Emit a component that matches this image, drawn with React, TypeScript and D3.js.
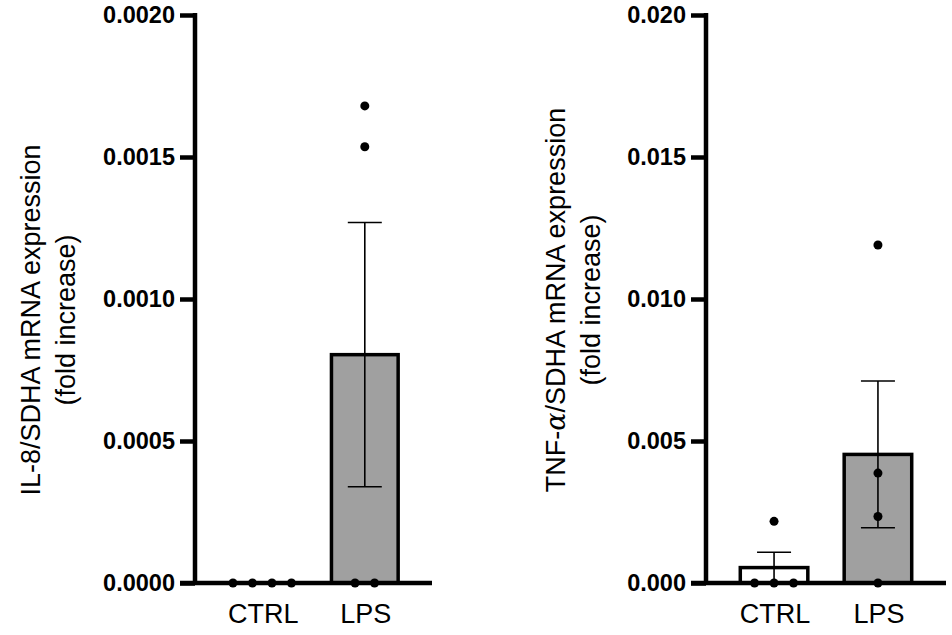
import React, { useRef, useEffect } from "react"
import * as d3 from "d3"

const GROUPS = ["CTRL", "LPS"]

// individual replicates
const IL8_CTRL = [0, 0, 0, 0]
const IL8_LPS = [0.00168, 0.001536, 0, 0]
const TNF_CTRL = [0.00217, 0, 0, 0]
const TNF_LPS = [0.0119, 0.00387, 0.00234, 0]

const IL8_TICKS = [0, 0.0005, 0.001, 0.0015, 0.002]
const TNF_TICKS = [0, 0.005, 0.01, 0.015, 0.02]

const BAR_FILLS = ["#ffffff", "#a0a0a0"]
const FONT = "Arial, 'Liberation Sans', Helvetica, sans-serif"

const W = 952
const H = 635
const TOP = 15
const BOTTOM = 583

interface PanelSpec {
  axisX: number
  endX: number
  max: number
  ticks: number[]
  fmt: string
  series: number[][]
  labelLines: { text: string; alphaAt?: number }[]
  labelX: number
  labelY: number
}

function drawPanel(svg: d3.Selection<SVGSVGElement, unknown, null, undefined>, p: PanelSpec) {
  const g = svg.append("g")

  const x = d3.scaleBand<string>().domain(GROUPS).range([p.axisX, p.endX])
    .paddingInner(0.35).paddingOuter(0.33)
  const y = d3.scaleLinear().domain([0, p.max]).range([BOTTOM, TOP])

  const stats = p.series.map((vals) => {
    const m = d3.mean(vals) ?? 0
    const sem = (d3.deviation(vals) ?? 0) / Math.sqrt(vals.length)
    return { m, sem }
  })

  // bars
  g.selectAll("rect.bar").data(GROUPS).join("rect")
    .attr("x", (d) => x(d)!).attr("width", x.bandwidth())
    .attr("y", (_, i) => y(stats[i].m))
    .attr("height", (_, i) => BOTTOM - y(stats[i].m))
    .attr("fill", (_, i) => BAR_FILLS[i])
    .attr("stroke", "#000").attr("stroke-width", 3.5)

  // error bars (mean ± SEM)
  const capW = 34
  GROUPS.forEach((grp, i) => {
    const cx = x(grp)! + x.bandwidth() / 2
    const lo = Math.max(0, stats[i].m - stats[i].sem)
    const hi = stats[i].m + stats[i].sem
    const eg = g.append("g").attr("stroke", "#000").attr("stroke-width", 1.6)
    eg.append("line").attr("x1", cx).attr("x2", cx).attr("y1", y(lo)).attr("y2", y(hi))
    eg.append("line").attr("x1", cx - capW / 2).attr("x2", cx + capW / 2).attr("y1", y(hi)).attr("y2", y(hi))
    if (lo > 0) {
      eg.append("line").attr("x1", cx - capW / 2).attr("x2", cx + capW / 2).attr("y1", y(lo)).attr("y2", y(lo))
    }
  })

  // points, equal values spread sideways
  const spread = 19.5
  GROUPS.forEach((grp, i) => {
    const cx = x(grp)! + x.bandwidth() / 2
    const byVal = d3.group(p.series[i], (v) => v)
    byVal.forEach((vals, v) => {
      vals.forEach((_, k) => {
        g.append("circle")
          .attr("cx", cx + (k - (vals.length - 1) / 2) * spread)
          .attr("cy", y(v)).attr("r", 4.5).attr("fill", "#000")
      })
    })
  })

  // x axis line
  g.append("line").attr("x1", p.axisX - 15).attr("x2", p.endX)
    .attr("y1", BOTTOM).attr("y2", BOTTOM)
    .attr("stroke", "#000").attr("stroke-width", 4.5)

  // y axis
  g.append("g").attr("transform", `translate(${p.axisX},0)`)
    .call(d3.axisLeft(y).tickValues(p.ticks).tickSize(15).tickSizeOuter(0).tickPadding(5)
      .tickFormat((d) => d3.format(p.fmt)(d as number)))
    .call((a) => a.select(".domain").attr("stroke-width", 4.5).attr("d", `M0,${TOP - 2}V${BOTTOM + 2}`))
    .call((a) => a.selectAll(".tick line").attr("stroke-width", 4.5))
    .call((a) => a.selectAll("text").attr("fill", "#000").attr("font-size", 23.5)
      .attr("font-weight", "bold").attr("font-family", FONT))

  // category labels
  g.selectAll("text.cat").data(GROUPS).join("text")
    .attr("x", (d) => x(d)! + x.bandwidth() / 2 + 1).attr("y", 622.5)
    .attr("text-anchor", "middle").attr("font-size", 27).attr("font-family", FONT)
    .attr("fill", "#000").text((d) => d)

  // y label
  const lab = g.append("text")
    .attr("transform", `translate(${p.labelX},${p.labelY}) rotate(-90)`)
    .attr("text-anchor", "middle").attr("font-size", 27).attr("font-family", FONT).attr("fill", "#000")
  p.labelLines.forEach((ln, i) => {
    const t = lab.append("tspan").attr("x", 0).attr("y", i * 35)
    if (ln.alphaAt !== undefined) {
      t.append("tspan").text(ln.text.slice(0, ln.alphaAt))
      t.append("tspan").attr("font-style", "italic").attr("font-family", "'DejaVu Serif', serif").text("α")
      t.append("tspan").text(ln.text.slice(ln.alphaAt + 1))
    } else {
      t.text(ln.text)
    }
  })
}

export default function App() {
  const svgRef = useRef<SVGSVGElement>(null)

  useEffect(() => {
    const el = svgRef.current
    if (!el) return
    const svg = d3.select(el)
    svg.selectAll("*").remove()

    drawPanel(svg, {
      axisX: 195, endX: 432, max: 0.002, ticks: IL8_TICKS, fmt: ".4f",
      series: [IL8_CTRL, IL8_LPS],
      labelLines: [{ text: "IL-8/SDHA mRNA expression" }, { text: "(fold increase)" }],
      labelX: 40, labelY: 320,
    })
    drawPanel(svg, {
      axisX: 706, endX: 946, max: 0.02, ticks: TNF_TICKS, fmt: ".3f",
      series: [TNF_CTRL, TNF_LPS],
      labelLines: [{ text: "TNF-α/SDHA mRNA expression", alphaAt: 4 }, { text: "(fold increase)" }],
      labelX: 565, labelY: 300,
    })
  }, [])

  return (
    <div style={{ position: "absolute", left: 0, top: 0 }}>
      <svg ref={svgRef} width={W} height={H} style={{ display: "block", background: "#fff" }} />
    </div>
  )
}
